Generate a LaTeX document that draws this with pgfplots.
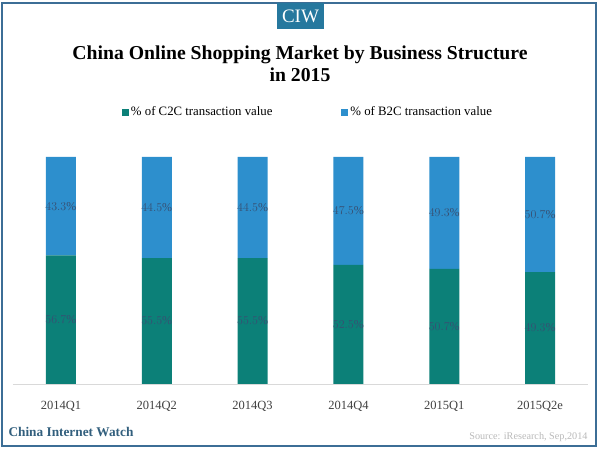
\documentclass[border=0pt]{standalone}
\usepackage{pgfplots}
\pgfplotsset{compat=1.18}
\usepackage{fontspec}
\setmainfont{Liberation Serif}

\definecolor{c2c}{RGB}{12,128,120}
\definecolor{b2c}{RGB}{45,143,205}
\definecolor{lbl}{RGB}{55,80,115}
\definecolor{framecol}{RGB}{60,110,150}
\definecolor{ciw}{RGB}{38,120,158}
\definecolor{brand}{RGB}{50,95,125}
\definecolor{ticktxt}{RGB}{64,64,64}
\definecolor{srcgray}{RGB}{185,185,185}
\definecolor{axisgray}{RGB}{217,217,217}

\begin{document}
\begin{tikzpicture}[x=1pt,y=1pt]
\path[use as bounding box] (0,0) rectangle (600,450);
% frame
\draw[framecol, line width=2.5pt] (2,4) rectangle (596,447);
% CIW badge
\fill[ciw] (277,421) rectangle (324,447);
\node[text=white, font=\fontsize{19}{19}\selectfont] at (300.5,434) {CIW};
% title
\node[font=\bfseries\fontsize{19.7}{22}\selectfont] at (300,395) {China Online Shopping Market by Business Structure};
\node[font=\bfseries\fontsize{19.7}{22}\selectfont] at (300,375) {in 2015};

\begin{axis}[
  at={(13pt,66pt)}, anchor=south west,
  scale only axis, width=575pt, height=227pt,
  ybar stacked, bar width=30pt,
  xmin=-0.5, xmax=5.5, ymin=0, ymax=100,
  xtick={0,...,5},
  xticklabels={2014Q1,2014Q2,2014Q3,2014Q4,2015Q1,2015Q2e},
  xticklabel style={text=ticktxt, font=\fontsize{12.5}{13}\selectfont, yshift=-14pt},
  axis y line=none,
  axis x line*=bottom,
  x axis line style={draw=axisgray, line width=0.8pt},
  major tick length=0pt,
  ytick=\empty,
  visualization depends on={rawy \as \rawy},
  nodes near coords={\pgfmathprintnumber[fixed,precision=1,zerofill]{\rawy}\%},
  every node near coord/.append style={text=lbl, font=\fontsize{12}{12}\selectfont,
    anchor=center},
  legend style={at={(0.513,1.198)}, anchor=center, draw=none, fill=none,
    legend columns=2, font=\fontsize{12.8}{13}\selectfont,
    /tikz/every even column/.append style={column sep=67pt}},
  legend image code/.code={\fill[#1] (0pt,-3.5pt) rectangle (7pt,3.5pt);},
]
\addplot[fill=c2c, draw=none] coordinates {(0,56.7) (1,55.5) (2,55.5) (3,52.5) (4,50.7) (5,49.3)};
\addplot[fill=b2c, draw=none] coordinates {(0,43.3) (1,44.5) (2,44.5) (3,47.5) (4,49.3) (5,50.7)};
\legend{\% of C2C transaction value, \% of B2C transaction value}
\end{axis}

% footer
\node[anchor=west, text=brand, font=\bfseries\fontsize{13.3}{14}\selectfont] at (5,18) {China Internet Watch};
\node[anchor=east, text=srcgray, font=\fontsize{10.2}{11}\selectfont] at (591,13) {Source: iResearch, Sep,2014};
\end{tikzpicture}
\end{document}
